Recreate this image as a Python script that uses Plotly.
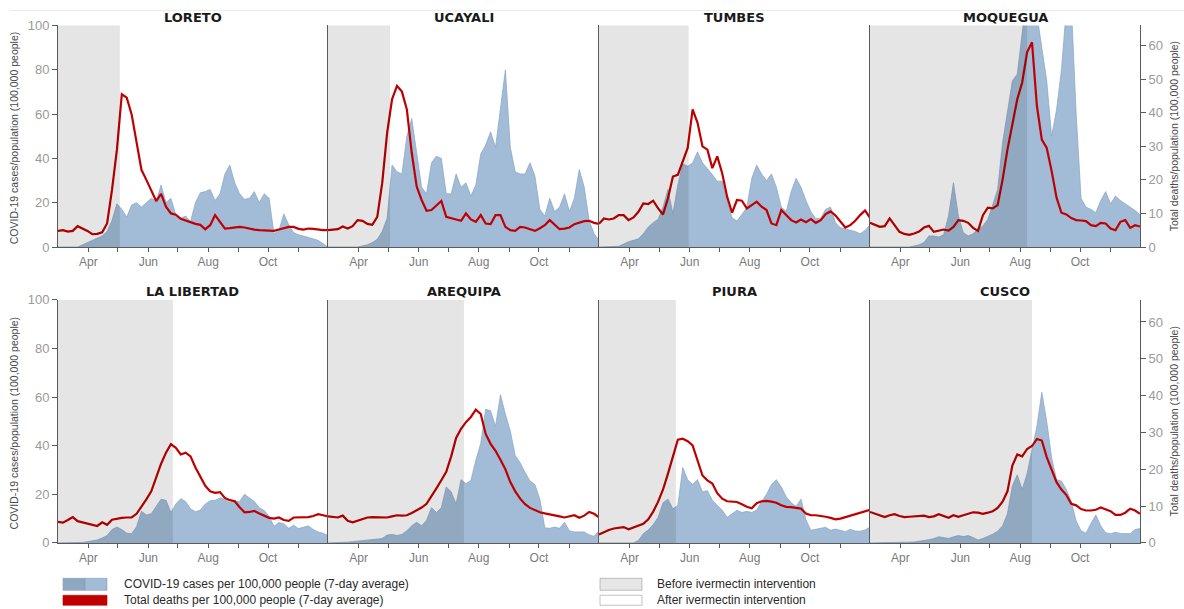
import pandas as pd
import plotly.graph_objects as go

# ---------------- data (5-day steps from 1 Mar 2020) ----------------
dates = pd.date_range("2020-03-01", periods=56, freq="5D")

regions = ["LORETO", "UCAYALI", "TUMBES", "MOQUEGUA",
           "LA LIBERTAD", "AREQUIPA", "PIURA", "CUSCO"]

intervention = ["2020-05-03", "2020-05-03", "2020-05-31", "2020-08-08",
                "2020-06-26", "2020-07-17", "2020-05-18", "2020-08-13"]

month_ticks = ["2020-04-01", "2020-06-01", "2020-08-01", "2020-10-01"]
month_labels = ["Apr", "Jun", "Aug", "Oct"]
minor_ticks = ["2020-05-01", "2020-07-01", "2020-09-01", "2020-11-01"]
left_ticks = [0, 20, 40, 60, 80, 100]
right_ticks = [0, 10, 20, 30, 40, 50, 60]

cases_loreto = [0, 0, 0, 0, 0, 1, 2, 2.8, 3.8, 5,
                7, 12, 19.5, 17, 13.5, 19, 20, 18, 20, 22,
                20.7, 28, 20, 22, 14.5, 13, 14, 11.5, 20, 24.5,
                25, 26, 21, 24, 33, 37, 29, 24, 21.5, 22,
                25, 20, 24, 22, 6, 7.5, 15, 10, 6.5, 5.5,
                5, 4.3, 3.8, 3, 1.5, 0]
deaths_loreto = [4.8, 5.0, 4.6, 4.8, 6.2, 5.6, 4.8, 3.8, 3.9, 4.4,
                 7, 17, 29, 45.5, 44.5, 39.5, 31, 23, 20, 17,
                 13.7, 15.8, 12, 10, 9.6, 8.4, 7.9, 7.2, 6.9, 6.6,
                 5.3, 6.5, 9.5, 7.5, 5.5, 5.6, 5.8, 6.0, 5.8, 5.4,
                 5.2, 5.0, 4.9, 4.7, 4.8, 5.2, 5.5, 6.0, 6.0, 5.4,
                 5.2, 5.5, 5.4, 5.1, 5.0, 5.0]

cases_ucayali = [0, 0, 0, 0, 0, 0, 0, 0.5, 1, 2,
                 3.5, 7, 13, 37, 34, 33, 50, 58, 43, 27,
                 24, 38, 41, 40, 24, 24, 33, 27, 29, 23,
                 28, 42, 46, 52, 45, 62, 80, 45, 34, 33,
                 33, 38, 32, 17, 14, 22, 16, 18, 24, 16,
                 22, 35, 27, 12, 6, 3]
deaths_ucayali = [5, 5.1, 5.3, 6.1, 5.5, 6.2, 8, 7.8, 6.9, 6.6,
                  9, 19, 34, 44, 48, 46.3, 41, 28, 18, 14,
                  10.8, 11, 12.5, 13.7, 9, 8.5, 8.2, 7.8, 10, 8.2,
                  7.5, 9.5, 7, 6.8, 9.5, 9.5, 6, 5, 4.8, 6,
                  5.8, 5.3, 4.8, 5.6, 6.5, 8, 6.5, 5.3, 5.5, 5.8,
                  6.8, 7.3, 7.7, 7.8, 7.2, 6.9]

cases_tumbes = [0, 0, 0, 0, 0.3, 1.3, 2.4, 3, 3.7, 6,
                9, 11, 12.5, 18, 26, 15, 28, 37.5, 36.5, 38,
                43, 38, 35.5, 32.7, 29.7, 29.7, 20.7, 13.2, 11.7, 14.7,
                17.7, 31, 37, 33, 30, 33, 27, 18, 16, 25,
                31, 27, 21, 16, 12.8, 13, 17, 18, 11, 8.7,
                8.2, 7.6, 7, 6, 7.5, 10]
deaths_tumbes = [6.9, 8.5, 8.2, 8.5, 9.5, 9.5, 8, 8.8, 10.5, 13,
                 12.8, 13.8, 11.5, 9.7, 14.5, 21, 21.5, 25.5, 29.5, 41,
                 37, 30, 29, 23.5, 27, 22, 15, 10.2, 14, 13.8,
                 11.5, 12.5, 13.5, 12, 11, 7, 6.5, 11, 9.5, 8,
                 7.3, 8.2, 7.4, 8.3, 7.2, 8, 9.8, 10.6, 9.4, 7.5,
                 5.8, 6.5, 7.8, 9.5, 10.9, 8.7]

cases_moquegua = [0, 0, 0, 0, 0, 0, 0, 0, 0, 0.5,
                  1, 2, 5, 5, 4.5, 5.5, 14, 29, 14, 6.5,
                  5, 6, 8, 9.5, 12.5, 19, 26, 47, 62, 75,
                  78, 100, 115, 112, 105, 90, 75, 50, 62, 80,
                  108, 110, 60, 22, 18, 17, 15.5, 21, 25, 19.5,
                  23, 21, 19.5, 18, 16.5, 14.5]
deaths_moquegua = [7.2, 6.7, 6, 6.2, 8.5, 6.5, 4.5, 3.9, 3.6, 4,
                   4.6, 5.8, 6.3, 4.5, 4.8, 5.2, 4.9, 6, 8, 7.8,
                   7.2, 5.7, 4.8, 9.5, 11.7, 11.5, 12.5, 20, 29, 37,
                   44, 49, 58, 61, 42, 32, 29.5, 22.6, 14.7, 10.2,
                   9.7, 8.6, 8, 7.9, 7.7, 6.5, 6.2, 7.2, 7, 5.5,
                   5, 7.5, 8, 5.7, 6.5, 6.1]

cases_lalibertad = [0, 0, 0, 0, 0, 0.2, 0.5, 0.8, 1.2, 2,
                    3, 5.5, 6.5, 5.5, 4, 3.8, 6.6, 13, 11.5, 12,
                    15, 18, 17.5, 12.5, 16, 18.2, 17, 14, 12.8, 13.5,
                    16, 17.3, 17.5, 18.5, 18, 16.5, 17.3, 17, 20, 18.5,
                    17, 14.5, 13.3, 11, 6.8, 8.4, 7.9, 6, 7.3, 5.9,
                    6.6, 7, 5.5, 4.5, 4, 3]
deaths_lalibertad = [5.7, 5.5, 6.2, 7, 5.9, 5.6, 5.4, 4.9, 4.6, 5.6,
                     4.9, 6.3, 6.6, 6.8, 6.9, 6.9, 7.9, 9.8, 11.8, 14,
                     17.8, 21.5, 24.5, 26.8, 25.8, 24, 24.5, 23.5, 20.5, 18,
                     15.5, 14, 13.6, 13.8, 12.2, 11.6, 11.3, 9.7, 8.3, 8.4,
                     8.7, 8, 7.3, 6.8, 6.6, 6.9, 6.2, 6.0, 6.9, 6.9,
                     6.9, 7, 7.3, 7.8, 7.5, 7.2]

cases_arequipa = [0, 0, 0, 0, 0.3, 0.5, 0.7, 0.9, 1, 1.2,
                  1.5, 1.8, 3.2, 3.5, 3, 3.5, 5, 7, 8.5, 7,
                  9.3, 14.5, 12.5, 14.5, 23, 21, 16, 26, 24.4, 25.7,
                  34, 41, 55, 54.4, 48, 61, 53, 46, 36, 33,
                  29, 25.5, 24, 18, 6.2, 6, 6.5, 6, 8.5, 5,
                  4.5, 4.5, 4.5, 3.3, 2.7, 5]
deaths_arequipa = [7.2, 7.1, 6.9, 7.4, 6, 5.6, 6.1, 6.5, 6.9, 7,
                   7, 6.9, 6.9, 7.2, 7.5, 7.4, 7.5, 8.1, 8.8, 9.6,
                   10.6, 12.6, 14.8, 17, 19.3, 23.5, 28.5, 31, 32.8, 34.2,
                   36.2, 35, 29.6, 26.9, 25, 22.6, 20, 16.5, 14, 12,
                   10.5, 9.5, 8.8, 8.3, 8, 7.8, 7.6, 7.2, 6.9, 7.2,
                   7.5, 6.8, 7.4, 8.4, 7.9, 6.9]

cases_piura = [0, 0, 0, 0, 0, 0, 0, 0, 1, 3.8,
               5.3, 7.5, 10.5, 16.5, 18, 14, 15.5, 31, 26, 24,
               26, 21, 21.5, 17.5, 15.5, 13.5, 10.5, 12, 13.4, 12.5,
               13, 12.5, 13.5, 17, 20, 24, 26, 23, 19, 16.5,
               15, 18, 9.5, 5.2, 5.7, 6.2, 6.4, 5.2, 5.7, 5.2,
               4.6, 5.6, 4.9, 4.8, 5.3, 6.5]
deaths_piura = [2.3, 3, 3.5, 3.9, 4, 4.3, 3.7, 4.2, 4.9, 5.2,
                6.4, 8.5, 11.2, 14.5, 18.8, 23.5, 28, 28.3, 27.6, 26.5,
                22.4, 18.3, 17, 16.1, 13.5, 12, 11.3, 11.1, 11.1, 10.5,
                9.8, 9.4, 10.8, 11.3, 11.4, 11.2, 10.9, 10.2, 9.8, 9.7,
                9.6, 9.3, 8, 7.5, 7.5, 7.4, 7.1, 6.8, 6.4, 6.6,
                7, 7.5, 7.9, 8.2, 8.6, 9]

cases_cusco = [0, 0, 0, 0, 0, 0.3, 0.2, 0.2, 0.3, 0.4,
               0.6, 0.9, 1.3, 1.8, 2.5, 2.2, 1.8, 2.5, 3, 2.6,
               3, 2.2, 1.2, 1.8, 2.6, 3.6, 4.8, 7, 12, 23.5,
               28, 22, 28.5, 38, 48, 62, 50, 35, 26, 25.5,
               22, 17, 9, 5, 4, 8, 11.5, 7, 4.2, 3.8,
               4.4, 3.9, 3.8, 3.8, 5.5, 5.9]
deaths_cusco = [8.4, 8, 7.5, 7, 7.5, 7.8, 7.3, 7, 7.1, 7.2,
                7.4, 7.4, 7, 7.2, 7.8, 7.2, 6.8, 7.5, 7.1, 7.5,
                8, 8.3, 8.2, 7.9, 8.2, 8.6, 9.5, 11.2, 14, 21,
                24, 23.5, 25.5, 26.3, 28.2, 27.8, 23.3, 19.7, 16.5, 14.5,
                13, 10.6, 10.2, 9.2, 8.8, 8.8, 9, 9.6, 9.2, 8.6,
                7.6, 7.6, 8.2, 9.3, 8.8, 7.9]

cases = [cases_loreto, cases_ucayali, cases_tumbes, cases_moquegua,
         cases_lalibertad, cases_arequipa, cases_piura, cases_cusco]
deaths = [deaths_loreto, deaths_ucayali, deaths_tumbes, deaths_moquegua,
          deaths_lalibertad, deaths_arequipa, deaths_piura, deaths_cusco]

legend_cases = "COVID-19 cases per 100,000 people (7-day average)"
legend_deaths = "Total deaths per 100,000 people (7-day average)"
legend_before = "Before ivermectin intervention"
legend_after = "After ivermectin intervention"
left_title = "COVID-19 cases/population (100,000 people)"
right_title = "Total deaths/population (100,000 people)"

# ---------------- layout geometry & style ----------------
W, HF = 1184, 624                      # figure size (page is captured a bit taller)
V_SCALE, V_OFF = 0.978, 5.5            # observed capture mapping: shown_y = V_SCALE*y + V_OFF
col_edges = [(58, 328), (328, 599), (599, 870), (870, 1140)]
row_edges = [(24, 246), (299, 542.5)]  # target positions in the 1184x609 picture
BLUE = "#a2bcd7"
BLUE_EDGE = "#87a5c4"
RED = "#c00000"
AX = "#5a5a5a"
FONT = "Liberation Sans, Arial, sans-serif"


def pxx(x):
    return x / W


def pyy(y):
    """target picture y (px from top) -> paper fraction"""
    return 1 - ((y - V_OFF) / V_SCALE) / HF


fig = go.Figure()
layout = dict(width=W, height=HF, margin=dict(l=0, r=0, t=0, b=0),
              paper_bgcolor="white", plot_bgcolor="rgba(0,0,0,0)",
              showlegend=False, font=dict(family=FONT))
shapes = []
annotations = []

for i, reg in enumerate(regions):
    n = i + 1
    r, c = divmod(i, 4)
    L, R = col_edges[c]
    T, B = row_edges[r]
    xs = "" if n == 1 else str(n)
    xname, yname, y2name = "x" + xs, "y" + xs, "y" + str(n + 8)

    fig.add_trace(go.Scatter(x=dates, y=cases[i], xaxis=xname, yaxis=yname,
                             mode="lines", fill="tozeroy", fillcolor=BLUE,
                             line=dict(color=BLUE_EDGE, width=0.7),
                             hoverinfo="skip"))
    fig.add_trace(go.Scatter(x=dates, y=deaths[i], xaxis=xname, yaxis=y2name,
                             mode="lines", line=dict(color=RED, width=2.2),
                             hoverinfo="skip"))

    layout["xaxis" + xs] = dict(
        domain=[pxx(L), pxx(R)], anchor=yname,
        range=["2020-03-01", "2020-12-01"], type="date",
        showline=True, linecolor=AX, linewidth=1,
        ticks="outside", ticklen=4, tickcolor=AX,
        tickmode="array", tickvals=month_ticks, ticktext=month_labels,
        tickfont=dict(size=12, color="#7a7a7a"),
        minor=dict(ticks="outside", ticklen=4, tickcolor=AX,
                   tickmode="array", tickvals=minor_ticks),
        showgrid=False, zeroline=False, fixedrange=True)
    layout["yaxis" + xs] = dict(
        domain=[pyy(B), pyy(T)], anchor=xname, range=[0, 100],
        showline=True, linecolor=AX, linewidth=1,
        ticks="outside" if c == 0 else "", ticklen=5, tickcolor=AX,
        showticklabels=(c == 0), tickmode="array", tickvals=left_ticks,
        tickfont=dict(size=13, color="#9a9a9a"),
        showgrid=False, zeroline=False, fixedrange=True)
    layout["yaxis" + str(n + 8)] = dict(
        overlaying=yname, side="right", anchor=xname, range=[0, 66],
        showline=(c == 3), linecolor=AX, linewidth=1,
        ticks="outside" if c == 3 else "", ticklen=5, tickcolor=AX,
        showticklabels=(c == 3), tickmode="array", tickvals=right_ticks,
        tickfont=dict(size=13, color="#9a9a9a"),
        showgrid=False, zeroline=False, fixedrange=True)

    # before-intervention shading
    shapes.append(dict(type="rect", xref=xname, yref=yname + " domain",
                       x0="2020-03-01", x1=intervention[i], y0=0, y1=1,
                       fillcolor="rgba(0,0,0,0.1)", line=dict(width=0),
                       layer="above"))
    # panel title
    annotations.append(dict(text="<b>" + reg + "</b>", xref="paper", yref="paper",
                            x=pxx((L + R) / 2), y=pyy(T - 8), showarrow=False,
                            xanchor="center", yanchor="middle",
                            font=dict(family="DejaVu Sans", size=13, color="#1a1a1a")))

# axis titles
for r, (T, B) in enumerate(row_edges):
    annotations.append(dict(text=left_title, xref="paper", yref="paper",
                            x=pxx(14), y=pyy((T + B) / 2 + 2), showarrow=False,
                            textangle=-90, xanchor="center", yanchor="middle",
                            font=dict(size=10.5, color="#4a4a4a")))
    annotations.append(dict(text=right_title, xref="paper", yref="paper",
                            x=pxx(1174), y=pyy((T + B) / 2), showarrow=False,
                            textangle=-90, xanchor="center", yanchor="middle",
                            font=dict(size=10.5, color="#4a4a4a")))

# faint top rule
shapes.append(dict(type="line", xref="paper", yref="paper", x0=pxx(10), x1=1,
                   y0=pyy(9), y1=pyy(9), line=dict(color="#ececec", width=1)))


# legend
def rect(x0, y0, x1, y1, fill, edge, w=0.6):
    return dict(type="rect", xref="paper", yref="paper",
                x0=pxx(x0), x1=pxx(x1), y0=pyy(y1), y1=pyy(y0),
                fillcolor=fill, line=dict(color=edge, width=w))

shapes += [
    rect(63, 578, 85, 590, "#8fa8c2", "#7f9bb8"),
    rect(85, 578, 107, 590, BLUE, "#7f9bb8"),
    rect(63, 595, 107, 605, RED, RED),
    rect(600, 578, 642, 590, "#e6e6e6", "#9a9a9a"),
    rect(600, 595, 642, 605, "#ffffff", "#9a9a9a"),
]
for txt, x, y in [(legend_cases, 122, 584), (legend_deaths, 122, 600),
                  (legend_before, 655, 584), (legend_after, 655, 600)]:
    annotations.append(dict(text=txt, xref="paper", yref="paper",
                            x=pxx(x), y=pyy(y), showarrow=False,
                            xanchor="left", yanchor="middle",
                            font=dict(size=12, color="#2a2a2a")))

layout["shapes"] = shapes
layout["annotations"] = annotations
fig.update_layout(**layout)
fig.write_html(
    "out.html",
    config={"displayModeBar": False, "responsive": False},
    post_script=("var gd=document.getElementById('{plot_id}');"
                 "gd.style.position='fixed';gd.style.left='0px';gd.style.top='0px';"
                 "document.documentElement.style.margin='0';"
                 "document.body.style.margin='0';"
                 "document.body.style.padding='0';"
                 "document.body.style.overflow='hidden';"),
)
